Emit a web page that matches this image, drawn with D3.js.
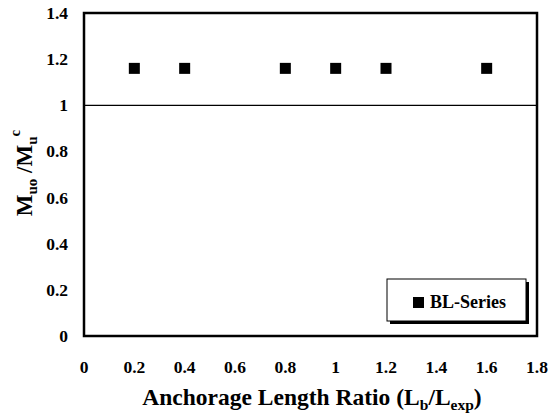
<!DOCTYPE html>
<html><head><meta charset="utf-8">
<script src="https://cdn.jsdelivr.net/npm/d3@7"></script>
<style>
body{margin:0;background:#fff;}
</style></head>
<body><svg id="c" width="559" height="414"></svg>
<script>
const xValues = [0.2, 0.4, 0.8, 1.0, 1.2, 1.6];
const yValues = [1.16, 1.16, 1.16, 1.16, 1.16, 1.16];
const xTicks = [0, 0.2, 0.4, 0.6, 0.8, 1, 1.2, 1.4, 1.6, 1.8];
const yTicks = [0, 0.2, 0.4, 0.6, 0.8, 1, 1.2, 1.4];
const seriesName = "BL-Series";

const FONT = "'Liberation Serif', 'DejaVu Serif', 'Times New Roman', serif";
const svg = d3.select("#c").attr("font-family", FONT).attr("font-weight", "bold");
const L = 84, R = 537, T = 13, B = 336;
const x = d3.scaleLinear().domain([0, 1.8]).range([L, R]);
const y = d3.scaleLinear().domain([0, 1.4]).range([B, T]);

// frame
svg.append("rect").attr("x", L).attr("y", T).attr("width", R - L).attr("height", B - T)
  .attr("fill", "#fff").attr("stroke", "#000").attr("stroke-width", 2.5);

// reference line at 1
svg.append("line").attr("x1", L).attr("x2", R).attr("y1", y(1)).attr("y2", y(1))
  .attr("stroke", "#000").attr("stroke-width", 1.3);

// y tick labels
svg.append("g").selectAll("text").data(yTicks).enter().append("text")
  .attr("x", 68).attr("y", d => y(d)).attr("dy", "0.34em")
  .attr("text-anchor", "end").attr("font-size", 17.5)
  .text(d => d3.format("")(d));

// x tick labels
svg.append("g").selectAll("text").data(xTicks).enter().append("text")
  .attr("x", d => x(d)).attr("y", 373)
  .attr("text-anchor", "middle").attr("font-size", 17.5)
  .text(d => d3.format("")(d));

// points
const ms = 11;
svg.append("g").selectAll("rect").data(xValues).enter().append("rect")
  .attr("x", (d) => x(d) - ms / 2).attr("y", (d, i) => y(yValues[i]) - ms / 2)
  .attr("width", ms).attr("height", ms).attr("fill", "#000");

// legend
const lx = 387, ly = 279, lw = 139, lh = 42;
svg.append("rect").attr("x", lx + 3).attr("y", ly + 3).attr("width", lw).attr("height", lh).attr("fill", "#000");
svg.append("rect").attr("x", lx).attr("y", ly).attr("width", lw).attr("height", lh)
  .attr("fill", "#fff").attr("stroke", "#000").attr("stroke-width", 1);
svg.append("rect").attr("x", 413).attr("y", 297).attr("width", 11).attr("height", 11).attr("fill", "#000");
svg.append("text").attr("x", 430).attr("y", 308).attr("font-size", 18).text(seriesName);

// x axis title
const xt = svg.append("text").attr("x", 312).attr("y", 405).attr("text-anchor", "middle").attr("font-size", 23.5);
xt.append("tspan").text("Anchorage Length Ratio (L");
xt.append("tspan").attr("font-size", 15.5).attr("dy", 5).text("b");
xt.append("tspan").attr("dy", -5).text("/L");
xt.append("tspan").attr("font-size", 15.5).attr("dy", 5).text("exp");
xt.append("tspan").attr("dy", -5).text(")");

// y axis title
const yt = svg.append("text").attr("transform", "translate(32,173) rotate(-90)")
  .attr("text-anchor", "middle").attr("font-size", 23);
yt.append("tspan").text("M");
yt.append("tspan").attr("font-size", 15).attr("dy", 5).text("uo");
yt.append("tspan").attr("dy", -5).text(" /M");
yt.append("tspan").attr("font-size", 15).attr("dy", 5).text("u");
yt.append("tspan").attr("font-size", 15).attr("dy", -17).text("c");
</script></body></html>
